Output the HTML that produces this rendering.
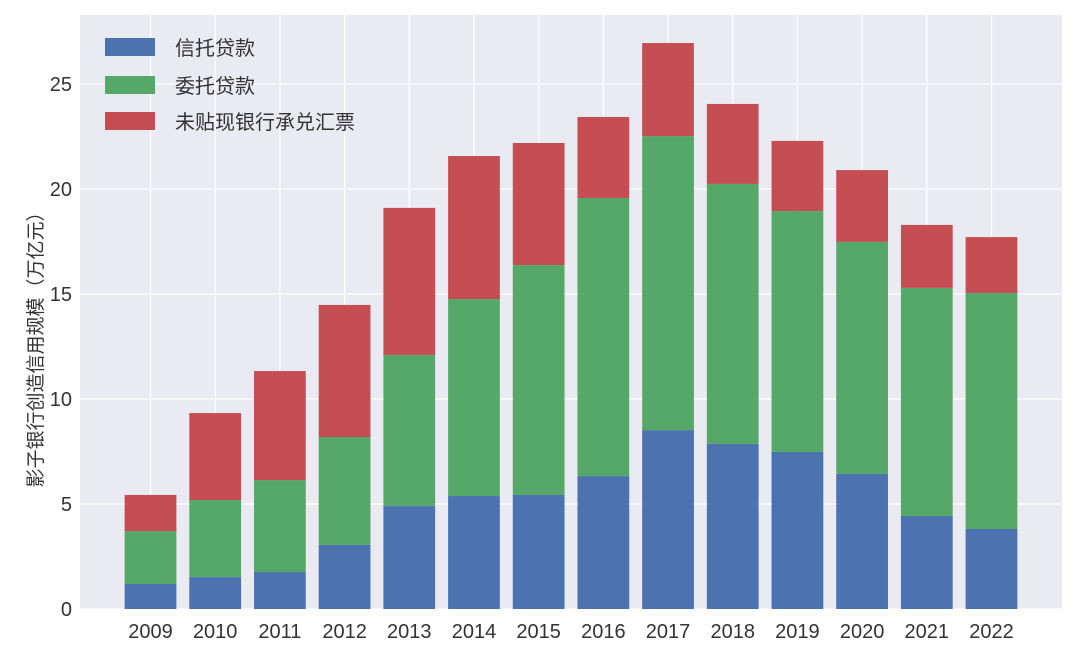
<!DOCTYPE html>
<html><head><meta charset="utf-8"><style>
body{margin:0;background:#fff;}
svg{display:block;font-family:"Liberation Sans","Noto Sans CJK SC",sans-serif;}
</style></head><body>
<svg id="chart" width="1080" height="651">
<rect x="80" y="15" width="982" height="594" fill="#EAEAF2"/>
<g id="grid"></g><g id="bars"></g><g id="axes"></g>
<text transform="translate(42,345) rotate(-90)" text-anchor="middle" font-size="19" fill="#333">影子银行创造信用规模（万亿元）</text>
<g>
<rect x="105" y="38" width="50" height="18" fill="#4C72B0"/>
<text x="175" y="55" font-size="20" fill="#333">信托贷款</text>
<rect x="105" y="76" width="50" height="18" fill="#55A868"/>
<text x="175" y="93" font-size="20" fill="#333">委托贷款</text>
<rect x="105" y="112" width="50" height="18" fill="#C44E52"/>
<text x="175" y="129" font-size="20" fill="#333">未贴现银行承兑汇票</text>
</g>
</svg>
<script>
const years=["2009","2010","2011","2012","2013","2014","2015","2016","2017","2018","2019","2020","2021","2022"];
const trustLoans=[1.19,1.52,1.76,3.05,4.90,5.38,5.43,6.33,8.52,7.86,7.48,6.43,4.43,3.81];
const entrustedLoans=[2.52,3.67,4.38,5.14,7.20,9.38,10.95,13.24,14.00,12.38,11.47,11.05,10.86,11.24];
const undiscountedBills=[1.72,4.14,5.19,6.29,7.00,6.81,5.81,3.86,4.43,3.81,3.34,3.42,3.00,2.66];
const yTicks=[0,5,10,15,20,25];
const NS="http://www.w3.org/2000/svg";
const L=80,R=1062,T=15,B=609,yMax=(B-T)/21;
const xMin=-1.09,xMax=years.length-1+1.09;
const xs=i=>L+(i-xMin)/(xMax-xMin)*(R-L);
const ys=v=>B-v/yMax*(B-T);
const unit=(R-L)/(xMax-xMin),bw=unit*0.8;
function mk(tag,attrs,parent){const e=document.createElementNS(NS,tag);for(const k in attrs)e.setAttribute(k,attrs[k]);document.getElementById(parent).appendChild(e);return e;}
yTicks.forEach(t=>{
 const l=mk('line',{x1:L,x2:R,y1:ys(t),y2:ys(t),stroke:'#fff','stroke-width':1.2},'grid');
 
 
 const tx=mk('text',{x:72,y:ys(t)+7,'text-anchor':'end','font-size':20,fill:'#333'},'axes');
 tx.textContent=t;
 
 
});
years.forEach((y,i)=>{
 const l=mk('line',{x1:xs(i),x2:xs(i),y1:T,y2:B,stroke:'#fff','stroke-width':1.2},'grid');
 
 
 const tx=mk('text',{x:xs(i),y:638,'text-anchor':'middle','font-size':20,fill:'#333'},'axes');
 tx.textContent=y;
 
 
 const segs=[[trustLoans[i],'#4C72B0','bar-trust-'+y],[entrustedLoans[i],'#55A868','bar-entrusted-'+y],[undiscountedBills[i],'#C44E52','bar-bills-'+y]];
 let base=0;
 segs.forEach(s=>{
  const r=mk('rect',{x:xs(i)-bw/2,y:ys(base+s[0]),width:bw,height:ys(base)-ys(base+s[0]),fill:s[1]},'bars');
  
  
  base+=s[0];
 });
});
</script>
</body></html>
